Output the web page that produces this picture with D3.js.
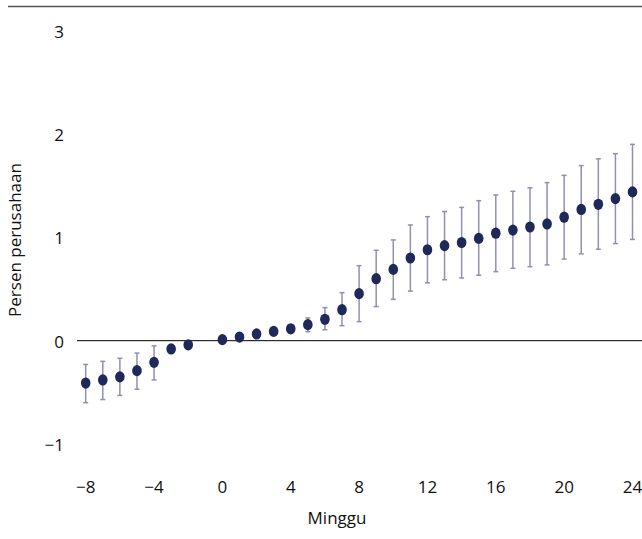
<!DOCTYPE html>
<html>
<head>
<meta charset="utf-8">
<script src="https://cdn.jsdelivr.net/npm/d3@7"></script>
<style>
  body { margin: 0; background: #fff; }
  svg text { font-family: "Open Sans", sans-serif; fill: #111; font-size: 17px; }
</style>
</head>
<body>
<svg id="chart" width="642" height="539"></svg>
<script>
// weeks relative to event (week -1 is the reference, so it is left out)
const weeks = [-8, -7, -6, -5, -4, -3, -2, 0, 1, 2, 3, 4, 5, 6, 7, 8, 9, 10, 11, 12,
    13, 14, 15, 16, 17, 18, 19, 20, 21, 22, 23, 24];
const estimate = [-0.41, -0.38, -0.35, -0.29, -0.21, -0.08, -0.04, 0.01, 0.035, 0.065, 0.09, 0.115,
    0.155, 0.207, 0.30, 0.455, 0.60, 0.69, 0.80, 0.88, 0.92, 0.95, 0.99, 1.04, 1.07, 1.10,
    1.13, 1.195, 1.27, 1.32, 1.375, 1.44];
const lower = [-0.60, -0.57, -0.53, -0.47, -0.38, -0.10, -0.055, 0.005, 0.025, 0.05, 0.07, 0.085,
    0.087, 0.106, 0.145, 0.184, 0.33, 0.40, 0.48, 0.56, 0.59, 0.607, 0.633, 0.668, 0.70, 0.716,
    0.733, 0.79, 0.84, 0.885, 0.94, 0.98];
const upper = [-0.23, -0.20, -0.17, -0.12, -0.05, -0.06, -0.025, 0.015, 0.045, 0.08, 0.11, 0.145,
    0.22, 0.32, 0.465, 0.726, 0.875, 0.975, 1.12, 1.20, 1.25, 1.29, 1.355, 1.41, 1.446, 1.48,
    1.53, 1.60, 1.695, 1.76, 1.81, 1.90];
const xTicks = [-8, -4, 0, 4, 8, 12, 16, 20, 24];
const yTicks = [-1, 0, 1, 2, 3];

const points = weeks.map((w, i) => ({ week: w, est: estimate[i], lo: lower[i], hi: upper[i] }));

const svg = d3.select('#chart');

const x = d3.scaleLinear().domain([-8, 24]).range([85.7, 632.5]);
const y = d3.scaleLinear().domain([-1, 3]).range([444, 30.7]);

const fmt = d => d < 0 ? '\u2212' + Math.abs(d) : d;

// top rule
svg.append('line')
    .attr('x1', 8).attr('x2', 642)
    .attr('y1', 6.5).attr('y2', 6.5)
    .attr('stroke', '#555').attr('stroke-width', 1.6);

// y tick labels
svg.append('g')
    .selectAll('text')
    .data(yTicks)
    .join('text')
    .attr('x', 64)
    .attr('y', d => y(d) + 7)
    .attr('text-anchor', 'end')
    .text(fmt);

// x tick labels
svg.append('g')
    .selectAll('text')
    .data(xTicks)
    .join('text')
    .attr('x', d => x(d))
    .attr('y', 493)
    .attr('text-anchor', 'middle')
    .text(fmt);

// zero line
svg.append('line')
    .attr('x1', 77).attr('x2', 642)
    .attr('y1', y(0)).attr('y2', y(0))
    .attr('stroke', '#000').attr('stroke-width', 1);

// axis titles
svg.append('text')
    .attr('x', 337).attr('y', 524)
    .attr('text-anchor', 'middle')
    .text('Minggu');

svg.append('text')
    .attr('transform', 'translate(21,240) rotate(-90)')
    .attr('text-anchor', 'middle')
    .text('Persen perusahaan');

// error bars
const bars = svg.append('g')
    .attr('stroke', '#8f91ae')
    .attr('stroke-width', 1.5);

bars.selectAll('line.whisker')
    .data(points)
    .join('line')
    .attr('class', 'whisker')
    .attr('x1', d => x(d.week)).attr('x2', d => x(d.week))
    .attr('y1', d => y(d.lo)).attr('y2', d => y(d.hi));

bars.selectAll('line.cap-hi')
    .data(points)
    .join('line')
    .attr('class', 'cap-hi')
    .attr('x1', d => x(d.week) - 2.5).attr('x2', d => x(d.week) + 2.5)
    .attr('y1', d => y(d.hi)).attr('y2', d => y(d.hi));

bars.selectAll('line.cap-lo')
    .data(points)
    .join('line')
    .attr('class', 'cap-lo')
    .attr('x1', d => x(d.week) - 2.5).attr('x2', d => x(d.week) + 2.5)
    .attr('y1', d => y(d.lo)).attr('y2', d => y(d.lo));

// point estimates
svg.append('g')
    .selectAll('ellipse')
    .data(points)
    .join('ellipse')
    .attr('cx', d => x(d.week))
    .attr('cy', d => y(d.est))
    .attr('rx', 4.8)
    .attr('ry', 5.6)
    .attr('fill', '#1e2859');
</script>
</body>
</html>
